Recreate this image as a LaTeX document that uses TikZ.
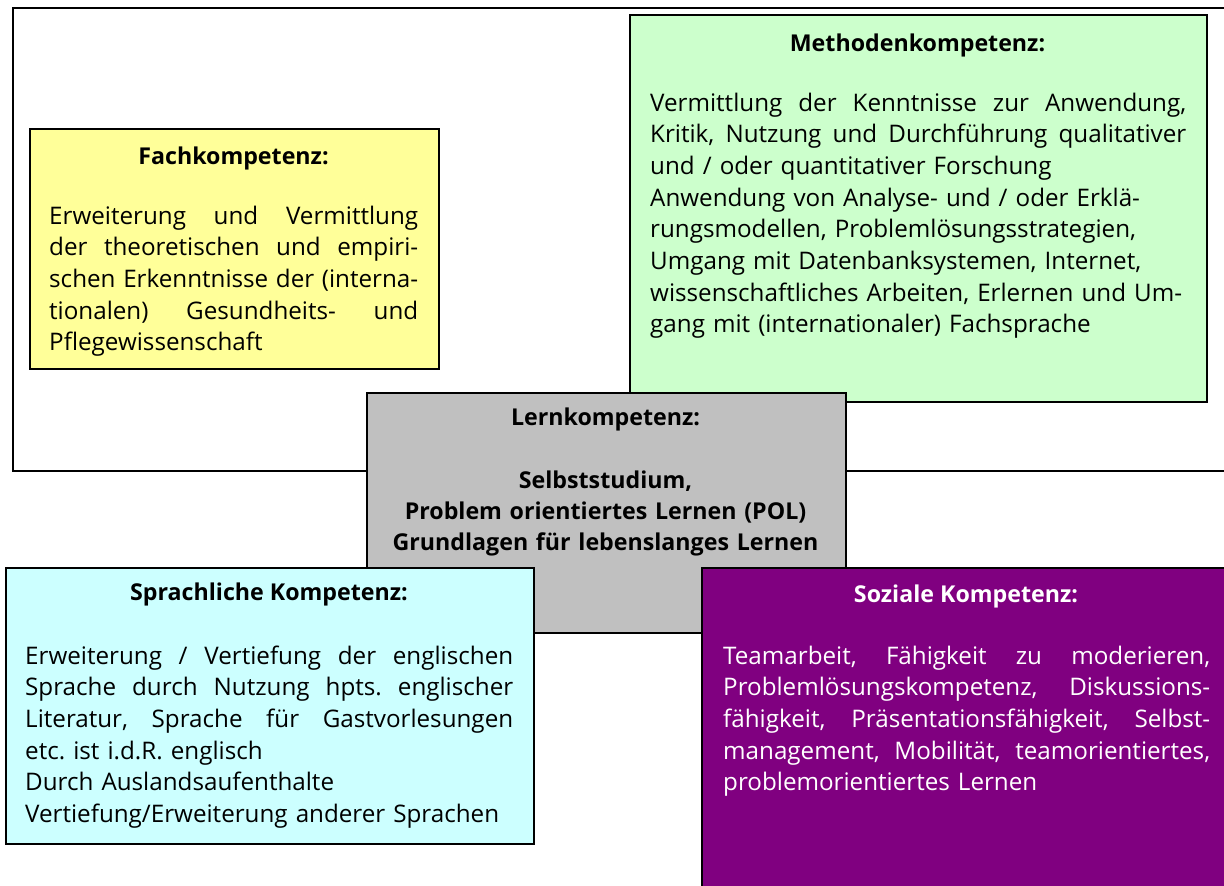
\documentclass[tikz,border=0pt]{standalone}
\usepackage{fontspec}
\setmainfont{Open Sans}
\frenchspacing
\definecolor{yel}{HTML}{FFFF99}
\definecolor{grn}{HTML}{CCFFCC}
\definecolor{gry}{HTML}{C0C0C0}
\definecolor{cyn}{HTML}{CCFFFF}
\definecolor{pur}{HTML}{800080}
\newcommand\fs{\fontsize{24.2}{31.7}\selectfont}
\newcommand\fb{\fontsize{23.2}{31}\selectfont\bfseries}
\newcommand\jl[2]{\makebox[#1][s]{\spaceskip=0.26em plus 1fil\relax #2}}
\tikzset{
  box/.style={draw=black, line width=1.6pt, inner sep=0pt, anchor=north west},
  ttl/.style={font=\fb, anchor=base, inner sep=0pt},
  body/.style={font=\fs\frenchspacing, anchor=base west, align=left, inner sep=0pt},
}
\begin{document}
\begin{tikzpicture}[x=1pt,y=-1pt]
\useasboundingbox (0,0) rectangle (1224,886);
\clip (0,0) rectangle (1224,886);
% outer frame
\draw[line width=2.2pt] (1230,8) -| (13,471) -- (1230,471);
% Fachkompetenz
\node[box, fill=yel, minimum width=409pt, minimum height=240pt] (fach) at (29,128) {};
\node[ttl] (fachT) at (233.5,164) {Fachkompetenz:};
\node[body, text width=370pt] (fachB) at (49,224) {%
\jl{369pt}{Erweiterung und Vermittlung}\\
\jl{369pt}{der theoretischen und empiri-}\\
\jl{369pt}{schen Erkenntnisse der (interna-}\\
\jl{369pt}{tionalen) Gesundheits- und}\\
Pflegewissenschaft};
% Methodenkompetenz
\node[box, fill=grn, minimum width=577pt, minimum height=387pt] (meth) at (629,14) {};
\node[ttl] (methT) at (917.5,51) {Methodenkompetenz:};
\node[body, text width=537pt] (methB) at (650,111) {%
\jl{536pt}{Vermittlung der Kenntnisse zur Anwendung,}\\
\jl{536pt}{Kritik, Nutzung und Durchführung qualitativer}\\
und / oder quantitativer Forschung\\
Anwendung von Analyse- und / oder Erklä-\\
rungsmodellen, Problemlösungsstrategien,\\
Umgang mit Datenbanksystemen, Internet,\\
wissenschaftliches Arbeiten, Erlernen und Um-\\
gang mit (internationaler) Fachsprache};
% Lernkompetenz
\node[box, fill=gry, minimum width=479pt, minimum height=240pt] (lern) at (366,392) {};
\node[ttl] (lernT) at (605.5,425) {Lernkompetenz:};
\node[ttl, text width=470pt, align=center] (lernB) at (605.5,488) {%
Selbststudium,\\
Problem orientiertes Lernen (POL)\\
Grundlagen für lebenslanges Lernen};
% Sprachliche Kompetenz
\node[box, fill=cyn, minimum width=528pt, minimum height=276pt] (spra) at (5,567) {};
\node[ttl] (spraT) at (269,600) {Sprachliche Kompetenz:};
\node[body, text width=488pt] (spraB) at (25,664) {%
\jl{488pt}{Erweiterung / Vertiefung der englischen}\\
\jl{488pt}{Sprache durch Nutzung hpts. englischer}\\
\jl{488pt}{Literatur, Sprache für Gastvorlesungen}\\
etc. ist i.d.R. englisch\\
Durch Auslandsaufenthalte\\
Vertiefung/Erweiterung anderer Sprachen};
% Soziale Kompetenz
\node[box, fill=pur, minimum width=530pt, minimum height=330pt] (soz) at (701,567) {};
\node[ttl, text=white] (sozT) at (966,602) {Soziale Kompetenz:};
\node[body, text=white, text width=488pt] (sozB) at (723,664) {%
\jl{487pt}{Teamarbeit, Fähigkeit zu moderieren,}\\
\jl{487pt}{Problemlösungskompetenz, Diskussions-}\\
\jl{487pt}{fähigkeit, Präsentationsfähigkeit, Selbst-}\\
\jl{487pt}{management, Mobilität, teamorientiertes,}\\
problemorientiertes Lernen};
\end{tikzpicture}
\end{document}
